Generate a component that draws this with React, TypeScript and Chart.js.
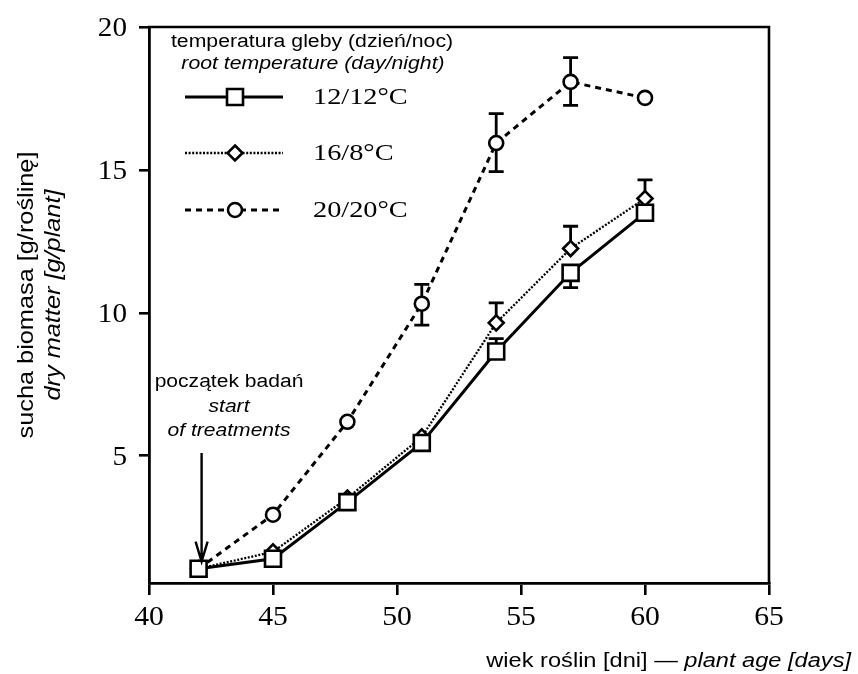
import React, { useEffect, useRef } from "react";
import { Chart, registerables } from "chart.js";

Chart.register(...registerables);

// ---- data ----
const days = [42, 45, 48, 51, 54, 57, 60];
const series12 = [1.05, 1.4, 3.38, 5.45, 8.65, 11.4, 13.5];
const series16 = [1.05, 1.64, 3.52, 5.66, 9.65, 12.25, 14.0];
const series20 = [1.05, 2.94, 6.19, 10.32, 15.94, 18.08, 17.52];
const err12Up = [null, null, null, null, 0.45, null, null];
const err12Down = [null, null, null, null, null, 0.52, null];
const err16Up = [null, null, null, null, 0.7, 0.78, 0.65];
const err16Down = [null, null, null, null, null, null, null];
const err20Up = [null, null, null, 0.68, 1.03, 0.85, null];
const err20Down = [null, null, null, 0.75, 1.0, 0.82, null];
const xTicks = [40, 45, 50, 55, 60, 65];
const yTicks = [5, 10, 15, 20];
const legendLabels = ["12/12°C", "16/8°C", "20/20°C"];
const legendTitle = ["temperatura gleby (dzień/noc)", "root temperature (day/night)"];
const yTitle = ["sucha biomasa [g/roślinę]", "dry matter [g/plant]"];
const xTitle = ["wiek roślin [dni] — ", "plant age [days]"];
const annotation = ["początek badań", "start", "of treatments"];
const startDay = 42;

const SANS = "'Liberation Sans', Arial, sans-serif";
const SERIF = "'Liberation Serif', 'Times New Roman', serif";

function sText(
  ctx: CanvasRenderingContext2D,
  text: string,
  x: number,
  y: number,
  font: string,
  align: "left" | "center" | "right",
  sx: number
) {
  ctx.save();
  ctx.font = font;
  const w = ctx.measureText(text).width * sx;
  const left = align === "left" ? x : align === "center" ? x - w / 2 : x - w;
  ctx.translate(left, y);
  ctx.scale(sx, 1);
  ctx.textAlign = "left";
  ctx.textBaseline = "alphabetic";
  ctx.fillStyle = "#000";
  ctx.fillText(text, 0, 0);
  ctx.restore();
  return w;
}

function marker(ctx: CanvasRenderingContext2D, style: string, x: number, y: number) {
  ctx.save();
  ctx.fillStyle = "#fff";
  ctx.strokeStyle = "#000";
  ctx.lineWidth = 2.6;
  ctx.setLineDash([]);
  ctx.beginPath();
  if (style === "rect") {
    ctx.rect(x - 8, y - 8, 16, 16);
  } else if (style === "rectRot") {
    ctx.moveTo(x, y - 7.5);
    ctx.lineTo(x + 7.5, y);
    ctx.lineTo(x, y + 7.5);
    ctx.lineTo(x - 7.5, y);
    ctx.closePath();
  } else {
    ctx.arc(x, y, 7, 0, Math.PI * 2);
  }
  ctx.fill();
  ctx.stroke();
  ctx.restore();
}

const seriesList = [series12, series16, series20];
const upList = [err12Up, err16Up, err20Up];
const downList = [err12Down, err16Down, err20Down];
const styles = ["rect", "rectRot", "circle"];
const dashes = [[], [2, 1.6], [6, 5]];
const widths = [3, 2.3, 3];

const customPlugin = {
  id: "custom",
  beforeDatasetsDraw(chart: any) {
    const ctx = chart.ctx as CanvasRenderingContext2D;
    const xs = chart.scales.x;
    const ys = chart.scales.y;
    ctx.save();
    ctx.strokeStyle = "#000";
    ctx.lineWidth = 2.8;
    ctx.setLineDash([]);
    seriesList.forEach((s, si) => {
      s.forEach((v, i) => {
        const px = xs.getPixelForValue(days[i]);
        const py = ys.getPixelForValue(v);
        const up = upList[si][i];
        const dn = downList[si][i];
        [up, dn ? -dn : null].forEach((e) => {
          if (e == null) return;
          const ey = ys.getPixelForValue(v + e);
          ctx.beginPath();
          ctx.moveTo(px, py);
          ctx.lineTo(px, ey);
          ctx.moveTo(px - 7.5, ey);
          ctx.lineTo(px + 7.5, ey);
          ctx.stroke();
        });
      });
    });
    ctx.restore();
  },
  afterDraw(chart: any) {
    const ctx = chart.ctx as CanvasRenderingContext2D;
    const xs = chart.scales.x;
    const ys = chart.scales.y;
    const a = chart.chartArea;
    ctx.save();
    // frame top/right
    ctx.strokeStyle = "#000";
    ctx.lineWidth = 2.6;
    ctx.beginPath();
    ctx.moveTo(a.left - 1, a.top);
    ctx.lineTo(a.right, a.top);
    ctx.lineTo(a.right, a.bottom + 1);
    ctx.stroke();

    // tick labels
    xs.ticks.forEach((t: any) => {
      sText(ctx, String(t.value), xs.getPixelForValue(t.value), a.bottom + 42, `27px ${SERIF}`, "center", 1.1);
    });
    ys.ticks.forEach((t: any) => {
      sText(ctx, String(t.value), a.left - 22, ys.getPixelForValue(t.value) + 9, `27px ${SERIF}`, "right", 1.08);
    });

    // legend
    sText(ctx, legendTitle[0], 312, 47, `18px ${SANS}`, "center", 1.18);
    sText(ctx, legendTitle[1], 313, 69, `italic 18px ${SANS}`, "center", 1.18);
    const rows = [97, 153, 210];
    rows.forEach((ry, i) => {
      ctx.save();
      ctx.strokeStyle = "#000";
      ctx.lineWidth = widths[i];
      ctx.setLineDash(dashes[i]);
      ctx.beginPath();
      ctx.moveTo(185, ry);
      ctx.lineTo(283, ry);
      ctx.stroke();
      ctx.restore();
      marker(ctx, styles[i], 235, ry);
      sText(ctx, legendLabels[i], 313, ry + 7, `24px ${SERIF}`, "left", 1.18);
    });

    // y title
    ctx.save();
    ctx.translate(33, 295);
    ctx.rotate(-Math.PI / 2);
    sText(ctx, yTitle[0], 0, 0, `22px ${SANS}`, "center", 1.15);
    ctx.restore();
    ctx.save();
    ctx.translate(60, 295);
    ctx.rotate(-Math.PI / 2);
    sText(ctx, yTitle[1], 0, 0, `italic 22px ${SANS}`, "center", 1.15);
    ctx.restore();

    // x title (right aligned)
    ctx.font = `italic 20px ${SANS}`;
    const w2 = ctx.measureText(xTitle[1]).width * 1.18;
    sText(ctx, xTitle[1], 851, 667, `italic 20px ${SANS}`, "right", 1.18);
    sText(ctx, xTitle[0], 851 - w2, 667, `20px ${SANS}`, "right", 1.18);

    // annotation
    sText(ctx, annotation[0], 229, 387, `18px ${SANS}`, "center", 1.17);
    sText(ctx, annotation[1], 229, 412, `italic 18px ${SANS}`, "center", 1.17);
    sText(ctx, annotation[2], 229, 436, `italic 18px ${SANS}`, "center", 1.17);
    const ax = xs.getPixelForValue(startDay) + 3;
    const aTop = ys.getPixelForValue(5.1);
    const aBot = ys.getPixelForValue(1.3);
    ctx.strokeStyle = "#000";
    ctx.lineWidth = 2.4;
    ctx.setLineDash([]);
    ctx.beginPath();
    ctx.moveTo(ax, aTop);
    ctx.lineTo(ax, aBot);
    ctx.moveTo(ax - 6, aBot - 20);
    ctx.lineTo(ax, aBot);
    ctx.lineTo(ax + 6, aBot - 20);
    ctx.stroke();
    ctx.restore();
  },
};

export default function App() {
  const ref = useRef<HTMLCanvasElement>(null);
  useEffect(() => {
    const canvas = ref.current!;
    const mk = (i: number) => ({
      label: legendLabels[i],
      data: days.map((d, k) => ({ x: d, y: seriesList[i][k] })),
      borderColor: "#000",
      borderWidth: widths[i],
      borderDash: dashes[i],
      pointStyle: styles[i],
      pointRadius: i === 0 ? 11.3 : i === 1 ? 7.5 : 7,
      pointBorderWidth: 2.6,
      pointBackgroundColor: "#fff",
      pointBorderColor: "#000",
      tension: 0,
      fill: false,
    });
    const gridOpts = (len: number) => ({
      display: true,
      drawOnChartArea: false,
      drawTicks: true,
      tickLength: len,
      color: "#000",
      lineWidth: 2.6,
    });
    const chart = new Chart(canvas, {
      type: "line",
      data: { datasets: [mk(0), mk(1), mk(2)] as any },
      options: {
        responsive: false,
        animation: false,
        layout: { padding: { left: 0, top: 27, right: 89, bottom: 0 } },
        plugins: { legend: { display: false }, tooltip: { enabled: false }, title: { display: false } },
        scales: {
          x: {
            type: "linear",
            min: 40,
            max: 65,
            ticks: { display: false, stepSize: 5 },
            afterBuildTicks: (s: any) => {
              s.ticks = xTicks.map((v) => ({ value: v }));
            },
            afterFit: (s: any) => {
              s.height = 91;
            },
            grid: gridOpts(12),
            border: { display: true, color: "#000", width: 2.8 },
          },
          y: {
            type: "linear",
            min: 0.55,
            max: 20,
            ticks: { display: false },
            afterBuildTicks: (s: any) => {
              s.ticks = yTicks.map((v) => ({ value: v }));
            },
            afterFit: (s: any) => {
              s.width = 149;
            },
            grid: gridOpts(10),
            border: { display: true, color: "#000", width: 2.8 },
          },
        },
      } as any,
      plugins: [customPlugin],
    });
    return () => chart.destroy();
  }, []);
  return (
    <div style={{ position: "fixed", left: 0, top: 0, width: 858, height: 674, background: "#fff" }}>
      <canvas ref={ref} width={858} height={674} style={{ display: "block" }} />
    </div>
  );
}
